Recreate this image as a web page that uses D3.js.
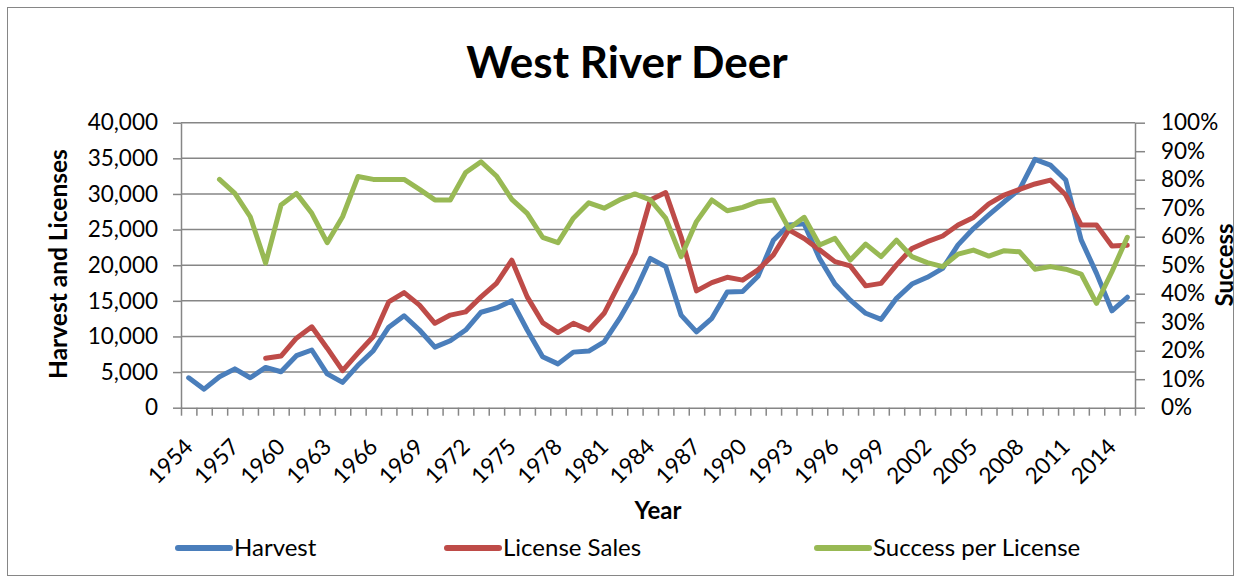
<!DOCTYPE html>
<html>
<head>
<meta charset="utf-8">
<script src="https://cdn.jsdelivr.net/npm/d3@7"></script>
<style>
  body { margin: 0; background: #fff; }
  text { font-family: Lato, "Open Sans", sans-serif; fill: #000; }
</style>
</head>
<body>
<div id="chart"></div>
<script>
// years 1954..2015
var years = d3.range(1954, 2016);

var harvest = [
  4200, 2600, 4350, 5450, 4200, 5650, 5050, 7300, 8100, 4750,
  3550, 5950, 8000, 11300, 12900, 10900, 8500, 9400, 10900, 13400,
  14000, 15000, 10900, 7150, 6150, 7800, 7950, 9250, 12500, 16250,
  20950, 19800, 13000, 10650, 12550, 16250, 16300, 18450, 23500, 25650,
  25800, 20950, 17350, 15100, 13250, 12400, 15350, 17350, 18300, 19550,
  22850, 25150, 27050, 28900, 30650, 34850, 34050, 31950, 23550, 18850,
  13600, 15500
];

// no license data before 1959
var licenseSales = [
  null, null, null, null, null, 6950, 7250, 9750, 11350, 8350,
  5200, 7650, 10000, 14850, 16150, 14400, 11850, 13000, 13450, 15550,
  17450, 20700, 15550, 11950, 10550, 11850, 10900, 13250, 17450, 21650,
  29150, 30200, 24000, 16400, 17550, 18300, 17900, 19350, 21450, 24950,
  23750, 22150, 20500, 19900, 17100, 17450, 20050, 22350, 23300, 24100,
  25650, 26700, 28600, 29850, 30650, 31400, 31950, 29850, 25650, 25650,
  22700, 22800
];

// success per license, percent
var success = [
  null, null, 80.1, 75.2, 67.0, 50.7, 71.1, 75.2, 68.2, 57.9,
  67.0, 81.1, 80.1, 80.1, 80.1, 76.6, 72.9, 72.9, 82.5, 86.3,
  81.3, 73.1, 68.2, 59.8, 57.9, 66.5, 71.9, 70.0, 72.9, 75.0,
  72.9, 66.5, 53.0, 65.3, 72.9, 69.1, 70.3, 72.3, 72.9, 62.9,
  66.8, 57.1, 59.4, 51.8, 57.4, 53.0, 58.8, 53.0, 50.9, 49.5,
  53.9, 55.3, 53.2, 55.1, 54.7, 48.6, 49.5, 48.6, 46.9, 36.6,
  47.7, 59.8
];

var leftTicks = d3.range(0, 40001, 5000);
var rightTicks = d3.range(0, 101, 10);
var labelYears = d3.range(1954, 2016, 3);

var series = [
  {name: "Harvest", values: harvest, color: "#4a7ebb", axis: "left"},
  {name: "License Sales", values: licenseSales, color: "#be4b48", axis: "left"},
  {name: "Success per License", values: success, color: "#98b954", axis: "right"}
];

var width = 1241,
    height = 582;
var plot = {left: 181, right: 1135, top: 122.7, bottom: 407.7};
var gridColor = "#868686";
var labelSize = "22.5px";

var svg = d3.select("#chart").append("svg")
    .attr("width", width)
    .attr("height", height);

// outer chart border
svg.append("rect")
    .attr("x", 7.5).attr("y", 7.5)
    .attr("width", 1226).attr("height", 568)
    .attr("fill", "none")
    .attr("stroke", gridColor)
    .attr("stroke-width", 1);

// category scale: ticks between years, points in the middle
var x = d3.scaleLinear()
    .domain([years[0] - 0.5, years[years.length - 1] + 0.5])
    .range([plot.left, plot.right]);
var yLeft = d3.scaleLinear().domain([0, 40000]).range([plot.bottom, plot.top]);
var yRight = d3.scaleLinear().domain([0, 100]).range([plot.bottom, plot.top]);

// gridlines
svg.append("g")
    .selectAll("line")
    .data(leftTicks.slice(1))
    .enter().append("line")
    .attr("x1", plot.left).attr("x2", plot.right)
    .attr("y1", function (d) { return yLeft(d); })
    .attr("y2", function (d) { return yLeft(d); })
    .attr("stroke", gridColor)
    .attr("stroke-width", 1.5);

function styleAxis(g) {
  g.select(".domain").attr("stroke", gridColor).attr("stroke-width", 1.5);
  g.selectAll(".tick line").attr("stroke", gridColor).attr("stroke-width", 1.5);
  g.selectAll("text").style("font-size", labelSize).attr("fill", "#000");
}

svg.append("g")
    .attr("transform", "translate(" + plot.left + ",0)")
    .call(d3.axisLeft(yLeft).tickValues(leftTicks).tickSize(8).tickPadding(15)
        .tickSizeOuter(0).tickFormat(d3.format(",")))
    .call(styleAxis);

svg.append("g")
    .attr("transform", "translate(" + plot.right + ",0)")
    .call(d3.axisRight(yRight).tickValues(rightTicks).tickSize(10).tickPadding(16)
        .tickSizeOuter(0).tickFormat(function (d) { return d + "%"; }))
    .call(styleAxis);

// x axis: tick marks at category boundaries
var boundaries = d3.range(years[0] - 0.5, years[years.length - 1] + 1, 1);
svg.append("g")
    .attr("transform", "translate(0," + plot.bottom + ")")
    .call(d3.axisBottom(x).tickValues(boundaries).tickSize(8).tickSizeOuter(0)
        .tickFormat(""))
    .call(styleAxis);

// rotated year labels
svg.append("g")
    .selectAll("text")
    .data(labelYears)
    .enter().append("text")
    .attr("transform", function (d) {
      return "translate(" + x(d) + "," + (plot.bottom + 35) + ") rotate(-45)";
    })
    .attr("text-anchor", "end")
    .attr("dy", "0.35em")
    .style("font-size", labelSize)
    .text(function (d) { return d; });

// lines
series.forEach(function (s) {
  var yScale = s.axis === "left" ? yLeft : yRight;
  var line = d3.line()
      .defined(function (d) { return d != null; })
      .x(function (d, i) { return x(years[i]); })
      .y(function (d) { return yScale(d); });
  svg.append("path")
      .datum(s.values)
      .attr("d", line)
      .attr("fill", "none")
      .attr("stroke", s.color)
      .attr("stroke-width", 5)
      .attr("stroke-linejoin", "round")
      .attr("stroke-linecap", "round");
});

// titles
svg.append("text")
    .attr("x", 627).attr("y", 78)
    .attr("text-anchor", "middle")
    .style("font-size", "44px")
    .style("font-weight", "bold")
    .text("West River Deer");

svg.append("text")
    .attr("transform", "translate(67,264) rotate(-90)")
    .attr("text-anchor", "middle")
    .style("font-size", "24.5px")
    .style("font-weight", "bold")
    .text("Harvest and Licenses");

svg.append("text")
    .attr("transform", "translate(1233,265) rotate(-90)")
    .attr("text-anchor", "middle")
    .style("font-size", "24px")
    .style("font-weight", "bold")
    .text("Success");

svg.append("text")
    .attr("x", 658).attr("y", 519)
    .attr("text-anchor", "middle")
    .style("font-size", "24px")
    .style("font-weight", "bold")
    .text("Year");

// legend
var legendX = [178, 447, 817];
var legend = svg.append("g")
    .selectAll("g")
    .data(series)
    .enter().append("g")
    .attr("transform", function (d, i) { return "translate(" + legendX[i] + ",548)"; });
legend.append("line")
    .attr("x1", 0).attr("x2", 52)
    .attr("stroke", function (d) { return d.color; })
    .attr("stroke-width", 6)
    .attr("stroke-linecap", "round");
legend.append("text")
    .attr("x", 56).attr("dy", "0.35em")
    .style("font-size", "24px")
    .text(function (d) { return d.name; });
</script>
</body>
</html>
